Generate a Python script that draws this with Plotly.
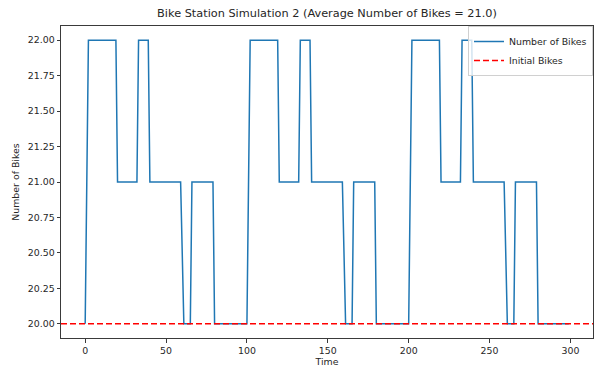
import plotly.graph_objects as go

# Breakpoints of the simulated number of bikes (time, bikes)
times = [0, 2, 19, 20, 32, 33, 39, 40, 59, 61, 65, 66, 79, 80,
         100, 102, 119, 120, 132, 133, 139, 140, 159, 161, 165, 166, 179, 180,
         200, 202, 219, 220, 232, 233, 239, 240, 259, 261, 265, 266, 279, 280, 299]
bikes = [20, 22, 22, 21, 21, 22, 22, 21, 21, 20, 20, 21, 21, 20,
         20, 22, 22, 21, 21, 22, 22, 21, 21, 20, 20, 21, 21, 20,
         20, 22, 22, 21, 21, 22, 22, 21, 21, 20, 20, 21, 21, 20, 20]
initial_bikes = 20
average_bikes = 21.0

x_ticks = [0, 50, 100, 150, 200, 250, 300]
y_ticks = [20.0, 20.25, 20.5, 20.75, 21.0, 21.25, 21.5, 21.75, 22.0]

FONT = "DejaVu Sans"
TXT = "#262626"

fig = go.Figure()
fig.add_trace(go.Scatter(
    x=times, y=bikes, mode="lines", name="Number of Bikes",
    line=dict(color="#1f77b4", width=1.5),
))
fig.add_hline(
    y=initial_bikes, line=dict(color="#ff0000", width=1.5, dash="6px,3px"),
    showlegend=True, name="Initial Bikes",
)

xmin, xmax = min(times), max(times)
xpad = (xmax - xmin) * 0.05
ymin, ymax = min(bikes), max(bikes)
ypad = (ymax - ymin) * 0.05

axis_common = dict(
    showgrid=False, zeroline=False, showline=True, mirror=True,
    linecolor="#3a3a3a", linewidth=1, ticks="outside", ticklen=3.5,
    tickwidth=0.8, tickcolor="#3a3a3a",
    tickfont=dict(family=FONT, size=9.4, color=TXT),
)

fig.update_layout(
    width=594, height=367,
    margin=dict(l=61, r=1, t=26, b=29),
    paper_bgcolor="white", plot_bgcolor="white",
    title=dict(
        text=f"Bike Station Simulation 2 (Average Number of Bikes = {average_bikes:.1f})",
        x=(61 + 593) / 2 / 594, xanchor="center", y=1 - 13 / 367, yanchor="middle",
        font=dict(family=FONT, size=11.3, color=TXT),
    ),
    xaxis=dict(
        range=[xmin - xpad, xmax + xpad], tickvals=x_ticks,
        title=dict(text="Time", font=dict(family=FONT, size=9.4, color=TXT), standoff=2),
        **axis_common,
    ),
    yaxis=dict(
        range=[ymin - ypad, ymax + ypad], tickvals=y_ticks, tickformat=".2f",
        title=dict(text="Number of Bikes", font=dict(family=FONT, size=9.4, color=TXT), standoff=6),
        **axis_common,
    ),
    legend=dict(
        x=1.0, y=1.0, xanchor="right", yanchor="top",
        bgcolor="rgba(255,255,255,0.8)", bordercolor="#d0d0d0", borderwidth=1,
        font=dict(family=FONT, size=9.4, color=TXT),
        itemwidth=30, tracegroupgap=0,
    ),
    showlegend=True,
)

fig.write_html("out.html")
